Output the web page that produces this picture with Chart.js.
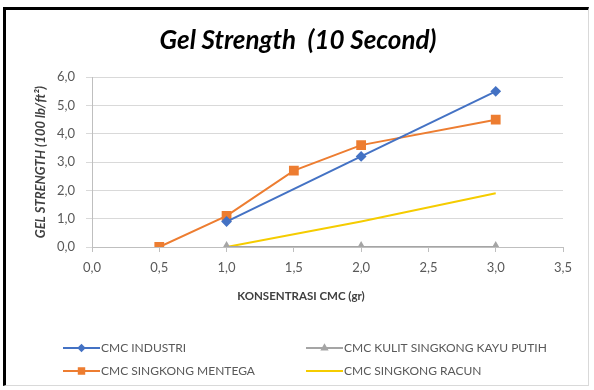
<!DOCTYPE html>
<html>
<head>
<meta charset="utf-8">
<script src="https://cdn.jsdelivr.net/npm/chart.js@4/dist/chart.umd.min.js"></script>
<style>
  html, body { margin: 0; padding: 0; background: #fff; }
  body { width: 594px; height: 390px; position: relative; overflow: hidden; }
  #frame {
    position: absolute; left: 3px; top: 7px; width: 582px; height: 375px;
    border-left: 3px solid #000; border-top: 3px solid #000;
    border-right: 1px solid #d9d9d9; border-bottom: 1px solid #d9d9d9;
  }
  #wrap { position: absolute; left: 0; top: 0; width: 594px; height: 390px; }
</style>
</head>
<body>
<div id="frame"></div>
<div id="wrap"><canvas id="chart" width="594" height="390"></canvas></div>
<script>
// Gel strength (10 s) versus CMC concentration, four CMC sources
const concIndustri = [1.0, 2.0, 3.0];
const gelIndustri  = [0.9, 3.2, 5.5];

const concMentega = [0.5, 1.0, 1.5, 2.0, 3.0];
const gelMentega  = [0.0, 1.1, 2.7, 3.6, 4.5];

const concKulit = [1.0, 2.0, 3.0];
const gelKulit  = [0.0, 0.0, 0.0];

const concRacun = [1.0, 2.0, 3.0];
const gelRacun  = [0.0, 0.9, 1.9];

const seriesNames = [
  'CMC INDUSTRI',
  'CMC SINGKONG MENTEGA',
  'CMC KULIT SINGKONG KAYU PUTIH',
  'CMC SINGKONG RACUN'
];

const xAxisTitle = 'KONSENTRASI CMC (gr)';

const toPoints = (xs, ys) => xs.map((x, i) => ({ x: x, y: ys[i] }));
const comma = v => Number(v).toFixed(1).replace('.', ',');

const FONT = 'Lato, "Open Sans", sans-serif';

// x-axis title centred on the whole chart box, and a two-column legend below it
const legendSlots = [[63, 348], [63, 371], [306, 348], [306, 371]];
const bottomTexts = {
  id: 'bottomTexts',
  afterDraw(chart) {
    const ctx = chart.ctx;
    ctx.save();
    ctx.fillStyle = '#404040';
    ctx.font = 'bold 11.5px ' + FONT;
    ctx.textAlign = 'center';
    ctx.textBaseline = 'middle';
    ctx.fillText(xAxisTitle, chart.width / 2 + 4, 296);
    ctx.restore();

    chart.data.datasets.forEach((ds, i) => {
      const [x, y] = legendSlots[i];
      ctx.save();
      ctx.strokeStyle = ds.borderColor;
      ctx.lineWidth = 2;
      ctx.beginPath();
      ctx.moveTo(x, y);
      ctx.lineTo(x + 37, y);
      ctx.stroke();
      if (ds.pointRadius > 0) {
        ctx.fillStyle = ds.pointBackgroundColor;
        ctx.strokeStyle = ds.borderColor;
        Chart.helpers.drawPoint(ctx, {
          pointStyle: ds.pointStyle,
          radius: ds.pointRadius * 0.7,
          borderWidth: 1,
          rotation: 0
        }, x + 18.5, y);
      }
      ctx.fillStyle = '#595959';
      ctx.font = '12px ' + FONT;
      ctx.textBaseline = 'middle';
      ctx.textAlign = 'left';
      ctx.fillText(ds.label, x + 38, y + 0.5);
      ctx.restore();
    });
  }
};

new Chart(document.getElementById('chart'), {
  type: 'line',
  data: {
    datasets: [
      {
        label: seriesNames[0],
        data: toPoints(concIndustri, gelIndustri),
        borderColor: '#4472C4',
        backgroundColor: '#4472C4',
        pointBackgroundColor: '#4472C4',
        pointStyle: 'rectRot',
        pointRadius: 4,
        borderWidth: 2
      },
      {
        label: seriesNames[1],
        data: toPoints(concMentega, gelMentega),
        borderColor: '#ED7D31',
        backgroundColor: '#ED7D31',
        pointBackgroundColor: '#ED7D31',
        pointStyle: 'rect',
        pointRadius: 5.5,
        borderWidth: 2
      },
      {
        label: seriesNames[2],
        data: toPoints(concKulit, gelKulit),
        borderColor: '#A5A5A5',
        backgroundColor: '#A5A5A5',
        pointBackgroundColor: '#A5A5A5',
        pointStyle: 'triangle',
        pointRadius: 4,
        borderWidth: 2
      },
      {
        label: seriesNames[3],
        data: toPoints(concRacun, gelRacun),
        borderColor: '#F5CC00',
        backgroundColor: '#F5CC00',
        pointBackgroundColor: '#F5CC00',
        pointStyle: 'circle',
        pointRadius: 0,
        borderWidth: 2
      }
    ]
  },
  options: {
    responsive: false,
    animation: false,
    layout: { padding: { left: 33, right: 31, top: 0, bottom: 87 } },
    plugins: {
      legend: { display: false },
      tooltip: { enabled: false },
      title: {
        display: true,
        text: 'Gel Strength  (10 Second)',
        color: '#000',
        font: { family: FONT, size: 26, weight: 'bold', style: 'italic' },
        padding: { top: 25, bottom: 21 }
      }
    },
    scales: {
      x: {
        type: 'linear',
        min: 0,
        max: 3.5,
        afterFit: s => { s.height = 56; },
        ticks: {
          stepSize: 0.5,
          callback: comma,
          color: '#595959',
          font: { family: FONT, size: 13 },
          padding: 8,
          maxRotation: 0
        },
        grid: { drawOnChartArea: false, drawTicks: true, tickLength: 5, color: '#bfbfbf' },
        border: { color: '#bfbfbf', width: 1 },
        title: { display: false }
      },
      y: {
        type: 'linear',
        min: 0,
        max: 6,
        afterFit: s => { s.width = 59; },
        ticks: {
          stepSize: 1,
          callback: comma,
          color: '#595959',
          font: { family: FONT, size: 13 },
          padding: 11
        },
        grid: { color: '#d9d9d9', tickLength: 6 },
        border: { color: '#bfbfbf', width: 1 },
        title: {
          display: true,
          text: 'GEL STRENGTH (100 lb/ft²)',
          color: '#404040',
          font: { family: FONT, size: 13, weight: 'bold', style: 'italic' },
          padding: 0
        }
      }
    }
  },
  plugins: [bottomTexts]
});
</script>
</body>
</html>
